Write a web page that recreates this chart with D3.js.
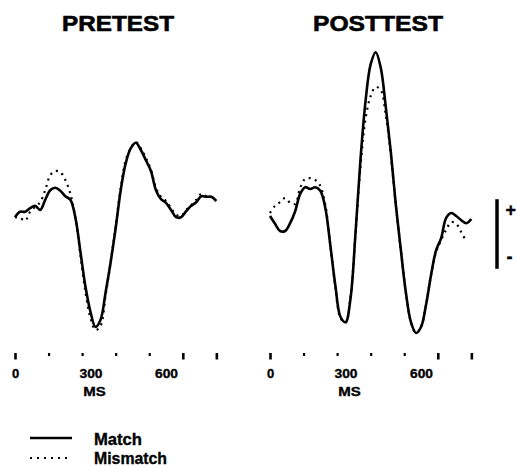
<!DOCTYPE html>
<html>
<head>
<meta charset="utf-8">
<script src="https://cdn.jsdelivr.net/npm/d3@7/dist/d3.min.js"></script>
<style>
  html, body { margin: 0; padding: 0; background: #fff; }
  svg text { font-family: "Liberation Sans", Arial, Helvetica, sans-serif; font-weight: bold; fill: #000; stroke: #000; stroke-width: 0.35px; }
  svg text.title { stroke-width: 0.6px; }
</style>
</head>
<body>
<svg id="chart" width="516" height="467"></svg>
<script>
// Sample times (ms after stimulus onset), one sample every 20 ms
const timesMs = d3.range(0, 801, 20);

// ERP amplitudes (µV, positive up) at each sample time
const pretestMatch = [-1.2, -0.3, -0.3, 0.3, 0.7, 0.0, 1.7, 3.3, 3.7, 3.2, 2.3, 1.7, -1.3, -7.0, -12.8, -17.0, -19.5, -18.3, -13.7, -8.7, -3.0, 3.3, 7.8, 10.3, 11.2, 10.0, 8.3, 6.5, 3.3, 1.8, 1.2, 0.0, -1.2, -1.2, -0.2, 0.7, 1.3, 2.3, 2.2, 2.2, 1.5];
const pretestMismatch = [-1.2, -1.3, -1.8, -0.3, 0.5, 1.3, 3.3, 5.8, 6.5, 6.3, 5.0, 2.7, -1.3, -7.5, -13.7, -18.0, -20.0, -19.3, -14.2, -8.7, -2.7, 3.7, 8.3, 10.3, 11.3, 10.3, 8.7, 6.7, 3.7, 2.2, 1.5, 0.3, -0.8, -1.0, 0.0, 0.8, 1.7, 2.7, 2.3, 2.2, 1.5];
const posttestMatch = [-1.0, -2.3, -3.5, -3.5, -2.2, -0.2, 2.7, 3.8, 3.5, 3.8, 3.2, 0.3, -6.0, -12.7, -17.8, -18.7, -14.7, -3.7, 8.7, 18.3, 24.3, 26.3, 23.7, 17.2, 9.7, 0.8, -6.7, -13.8, -18.7, -20.5, -19.5, -15.8, -10.8, -6.7, -4.7, -1.3, -0.5, -1.0, -1.7, -2.2, -1.5];
const posttestMismatch = [-0.5, 0.7, 1.3, 2.0, 1.2, 1.0, 3.7, 5.2, 5.3, 5.0, 4.0, 0.8, -6.0, -13.0, -18.0, -18.8, -14.5, -3.7, 7.5, 15.3, 19.0, 20.5, 20.0, 15.8, 9.2, 0.8, -6.7, -13.8, -18.7, -20.5, -19.5, -15.8, -10.8, -7.0, -5.0, -3.3, -2.0, -2.3, -3.7, -5.3, null];

// Panels, axis ticks and labels
const panelTitles = ["PRETEST", "POSTTEST"];
const tickMs = [0, 400 / 3, 800 / 3, 400, 1600 / 3, 2000 / 3, 800];
const majorTickMs = [0, 2000 / 3, 800];
const tickLabelMs = [0, 300, 600];
const axisTitle = "MS";
const legendLabels = ["Match", "Mismatch"];
const scaleBarUv = 11.6;         // length of the calibration bar
const scaleBarTopUv = 1.8;       // where the bar starts

const svg = d3.select("#chart");

const pxPerMs = 0.2517;
const panelLeft = [15, 270];
const y = d3.scaleLinear().domain([-25, 30]).range([360, 30]);

const line = x => d3.line()
  .defined(d => d.v !== null)
  .x(d => x(d.t))
  .y(d => y(d.v))
  .curve(d3.curveCatmullRom.alpha(0.5));

const panels = [
  { title: panelTitles[0], match: pretestMatch, mismatch: pretestMismatch, titleX: 118, titleW: 112 },
  { title: panelTitles[1], match: posttestMatch, mismatch: posttestMismatch, titleX: 378, titleW: 130 }
];

const isMajor = d => majorTickMs.some(m => Math.abs(m - d) < 1e-6);

panels.forEach((p, i) => {
  const x0 = panelLeft[i];
  const x = d3.scaleLinear().domain([0, 800]).range([x0, x0 + pxPerMs * 800]);
  const g = svg.append("g");

  // Title
  g.append("text")
    .attr("class", "title")
    .attr("x", p.titleX).attr("y", 31)
    .attr("text-anchor", "middle")
    .attr("textLength", p.titleW)
    .attr("lengthAdjust", "spacingAndGlyphs")
    .style("font-size", "22px")
    .text(p.title);

  const mis = timesMs.map((t, k) => ({ t, v: p.mismatch[k] }));
  const mat = timesMs.map((t, k) => ({ t, v: p.match[k] }));

  // Mismatch (dotted) under Match (solid)
  g.append("path").datum(mis)
    .attr("d", line(x))
    .attr("fill", "none").attr("stroke", "#000")
    .attr("stroke-width", 2.2)
    .attr("stroke-dasharray", "2 4.5");

  g.append("path").datum(mat)
    .attr("d", line(x))
    .attr("fill", "none").attr("stroke", "#000")
    .attr("stroke-width", 2.6)
    .attr("stroke-linejoin", "round");

  // Tick marks
  const axisG = g.append("g")
    .attr("transform", "translate(0,352)")
    .call(d3.axisBottom(x).tickValues(tickMs).tickFormat("").tickSizeOuter(0));
  axisG.select(".domain").remove();
  axisG.selectAll(".tick line")
    .attr("stroke", "#000")
    .attr("y1", 1)
    .attr("y2", d => isMajor(d) ? 7.5 : 4)
    .attr("stroke-width", d => isMajor(d) ? 2.6 : 2.2);

  // Tick labels
  const labG = g.append("g")
    .attr("transform", "translate(0,378)")
    .call(d3.axisBottom(x).tickValues(tickLabelMs).tickFormat(d3.format("d")).tickSize(0));
  labG.select(".domain").remove();
  labG.selectAll(".tick text")
    .attr("dy", null).attr("y", 0)
    .attr("fill", "#000")
    .attr("textLength", d => d === 0 ? null : 23)
    .attr("lengthAdjust", "spacingAndGlyphs")
    .style("font-size", "13px")
    .style("font-family", "\"Liberation Sans\", Arial, sans-serif")
    .style("font-weight", "bold");

  g.append("text")
    .attr("x", x(300) + 4).attr("y", 396)
    .attr("text-anchor", "middle")
    .attr("textLength", 22.5)
    .attr("lengthAdjust", "spacingAndGlyphs")
    .style("font-size", "13px")
    .text(axisTitle);
});

// Calibration bar
const barX = 497;
svg.append("line")
  .attr("x1", barX).attr("x2", barX)
  .attr("y1", y(scaleBarTopUv)).attr("y2", y(scaleBarTopUv - scaleBarUv))
  .attr("stroke", "#000").attr("stroke-width", 3.5);
svg.append("text")
  .attr("x", 505.5).attr("y", y(scaleBarTopUv) + 17)
  .style("font-size", "18px").text("+");
svg.append("text")
  .attr("x", 506.5).attr("y", y(scaleBarTopUv - scaleBarUv) - 6)
  .style("font-size", "18px").text("-");

// Legend
const legend = svg.append("g");
legendLabels.forEach((lab, i) => {
  const ly = 438 + i * 20;
  legend.append("line")
    .attr("x1", 30).attr("x2", 72)
    .attr("y1", ly).attr("y2", ly)
    .attr("stroke", "#000")
    .attr("stroke-width", i === 0 ? 2.6 : 2.2)
    .attr("stroke-dasharray", i === 0 ? null : "2 5");
  legend.append("text")
    .attr("x", 94).attr("y", 445 + i * 18.5)
    .attr("textLength", i === 0 ? 48 : 73)
    .attr("lengthAdjust", "spacingAndGlyphs")
    .style("font-size", "16px")
    .text(lab);
});
</script>
</body>
</html>
